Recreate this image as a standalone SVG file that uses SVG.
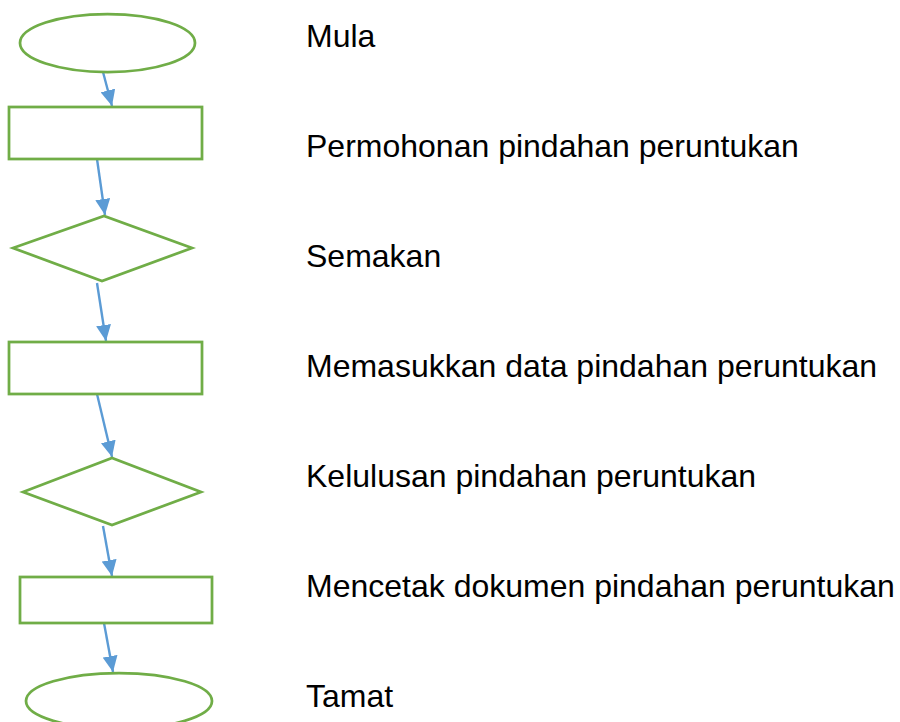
<svg xmlns="http://www.w3.org/2000/svg" width="900" height="722" viewBox="0 0 900 722">
<style>
.shape{fill:#ffffff;stroke:#70AD47;stroke-width:2.75}
.conn{stroke:#5B9BD5;stroke-width:2.4;fill:none;marker-end:url(#ah)}
.lbl{font-family:"Liberation Sans",Arial,sans-serif;font-size:32px;fill:#000000}
</style>
<defs>
<marker id="ah" markerUnits="userSpaceOnUse" markerWidth="16" markerHeight="15" viewBox="0 0 16 15" refX="16" refY="7.5" orient="auto">
<path d="M0,0 L16,7.5 L0,15 Z" fill="#5B9BD5"/>
</marker>
</defs>
<rect width="900" height="722" fill="#ffffff"/>
<g id="connectors">
<line class="conn" x1="103" y1="72" x2="112" y2="106"/>
<line class="conn" x1="97" y1="159" x2="105" y2="215"/>
<line class="conn" x1="97" y1="283" x2="106" y2="341"/>
<line class="conn" x1="97" y1="394" x2="112" y2="457"/>
<line class="conn" x1="103" y1="526" x2="112" y2="576"/>
<line class="conn" x1="104" y1="623" x2="113" y2="672"/>
</g>
<g id="mula"><ellipse class="shape" cx="107.5" cy="43" rx="87.5" ry="29"/></g>
<g id="permohonan"><rect class="shape" x="9" y="107" width="193" height="52"/></g>
<g id="semakan"><polygon class="shape" points="13,248 104,216 192,248 102,281"/></g>
<g id="memasukkan"><rect class="shape" x="9" y="342" width="193" height="52"/></g>
<g id="kelulusan"><polygon class="shape" points="23,492 112,458 201,492 112,525"/></g>
<g id="mencetak"><rect class="shape" x="20" y="577" width="192" height="46"/></g>
<g id="tamat"><ellipse class="shape" cx="119" cy="701" rx="93" ry="28"/></g>
<g id="labels">
<text class="lbl" x="306" y="47">Mula</text>
<text class="lbl" x="306" y="157">Permohonan pindahan peruntukan</text>
<text class="lbl" x="306" y="267">Semakan</text>
<text class="lbl" x="306" y="377">Memasukkan data pindahan peruntukan</text>
<text class="lbl" x="306" y="487">Kelulusan pindahan peruntukan</text>
<text class="lbl" x="306" y="597">Mencetak dokumen pindahan peruntukan</text>
<text class="lbl" x="306" y="707">Tamat</text>
</g>
</svg>
